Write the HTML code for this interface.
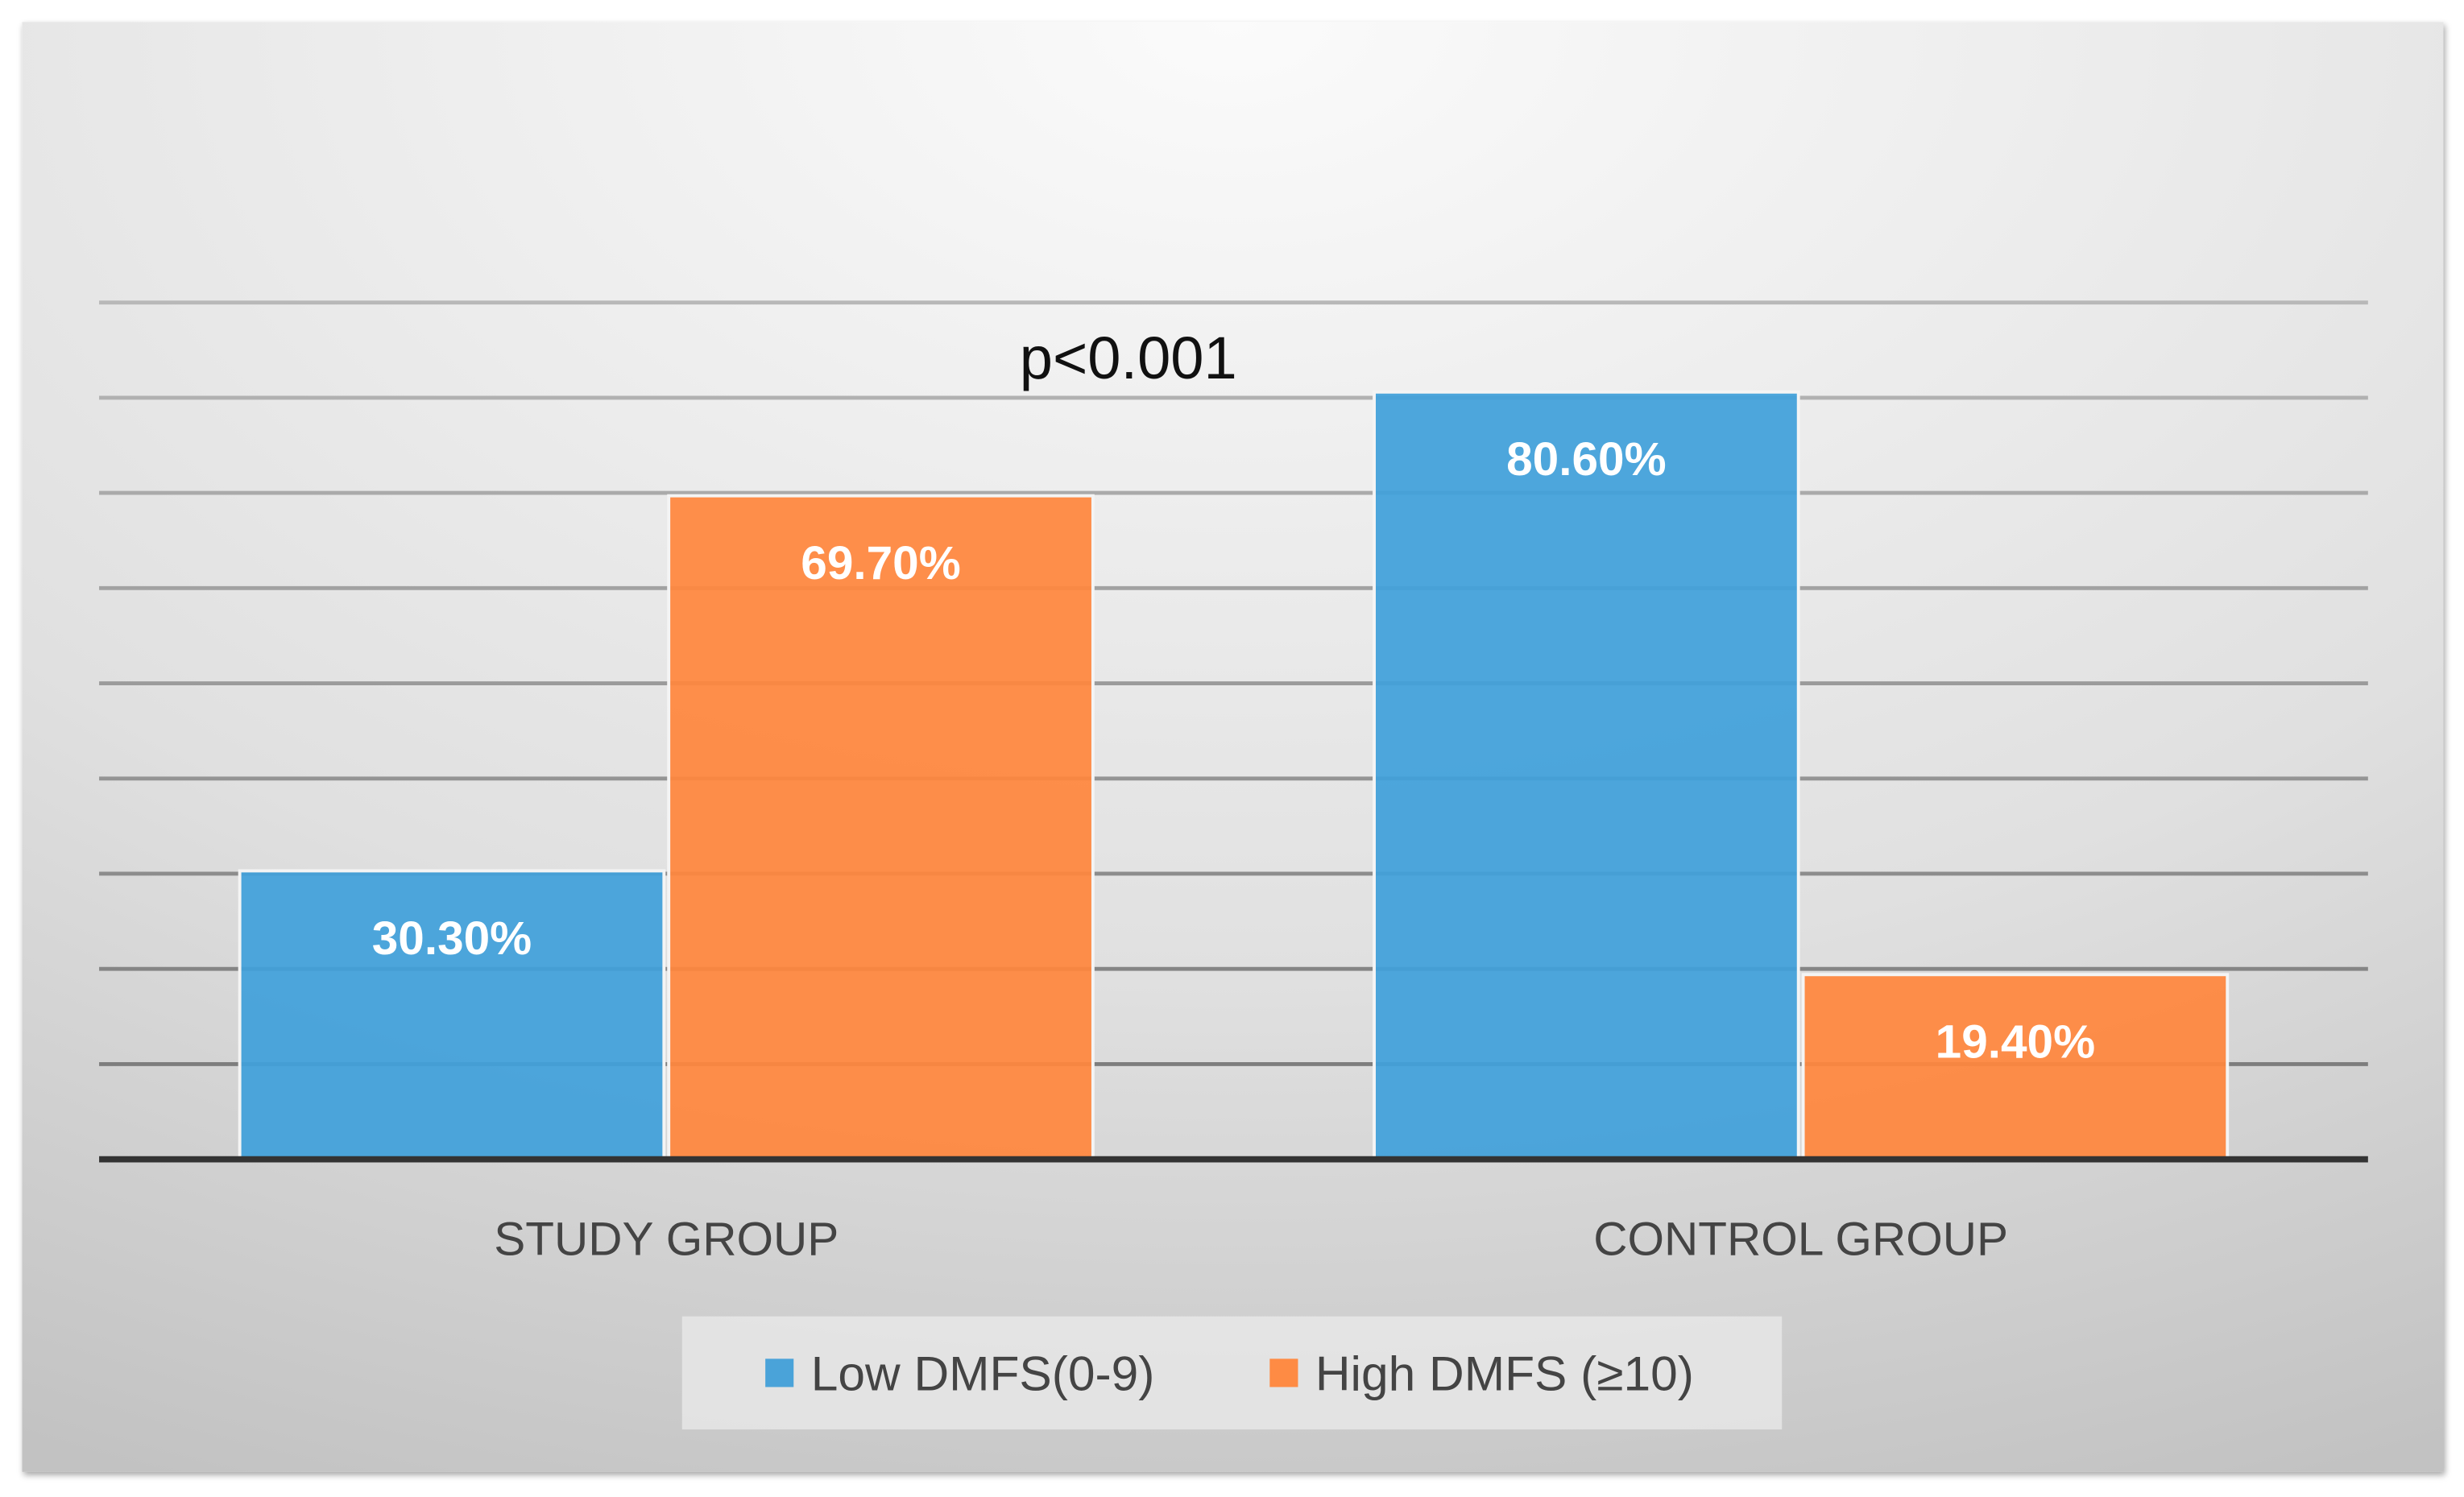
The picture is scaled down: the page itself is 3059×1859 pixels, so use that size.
<!DOCTYPE html>
<html><head><meta charset="utf-8"><style>
html,body{margin:0;padding:0;background:#fff;}
svg{display:block;font-family:"Liberation Sans",sans-serif;}
</style></head><body>
<svg id="chart" width="3059" height="1859" viewBox="0 0 1568 953" xmlns="http://www.w3.org/2000/svg">
<defs>
<radialGradient id="bg" cx="0.5" cy="0" r="1.1" fx="0.5" fy="0">
<stop offset="0" stop-color="#fbfbfb"/><stop offset="0.6" stop-color="#e0e0e0"/><stop offset="1" stop-color="#c2c2c2"/>
</radialGradient>
<filter id="sh" x="-5%" y="-5%" width="110%" height="110%"><feDropShadow dx="1" dy="2" stdDeviation="2" flood-color="#000" flood-opacity="0.35"/></filter>
</defs>
<rect x="14" y="14" width="1541" height="923" fill="url(#bg)" filter="url(#sh)"/>
<g id="grid"></g>
<g id="bars"></g>
<line x1="63" x2="1507" y1="738" y2="738" stroke="#333" stroke-width="4"/>
<text x="718" y="241" font-size="38" text-anchor="middle" fill="#111">p&lt;0.001</text>
<g id="cats"></g>
<rect x="434" y="838" width="700" height="72" fill="#e8e8e8" opacity="0.8"/>
<g>
<rect x="487" y="865" width="18" height="18" fill="#4aa3d9"/>
<text x="516" y="885" font-size="31" fill="#444">Low DMFS(0-9)</text>
</g>
<g>
<rect x="808" y="865" width="18" height="18" fill="#fe8b44"/>
<text x="837" y="885" font-size="31" fill="#444">High DMFS (≥10)</text>
</g>
</svg>
<script>
const categories = ["STUDY GROUP", "CONTROL GROUP"];
const lowValues = [30.3, 80.6];
const highValues = [69.7, 19.4];
const yTicks = [0,10,20,30,40,50,60,70,80,90];
const NS="http://www.w3.org/2000/svg";
const y0=738, pxPer=6.06, plotL=63, plotR=1507;
const y = v => y0 - v*pxPer;
const groupW=(plotR-plotL)/categories.length;
const xc = i => plotL + groupW*(i+0.5);
function mk(t,a){const e=document.createElementNS(NS,t);for(const k in a)e.setAttribute(k,a[k]);return e;}
const grid=document.getElementById('grid');
yTicks.forEach((t,i)=>{ if(t===0) return;
  const c=Math.round(0x77+(0xb8-0x77)*(t/90)).toString(16);
  const l=mk('line',{x1:plotL,x2:plotR,y1:y(t),y2:y(t),stroke:'#'+c+c+c,'stroke-width':2.5});
  
  
  grid.appendChild(l);});
const bars=document.getElementById('bars'), bw=270, gap=3;
function bar(i,v,left,color,name){
  const x= left ? xc(i)-bw-gap/2 : xc(i)+gap/2;
  const r=mk('rect',{x:x,y:y(v),width:bw,height:y0-y(v),fill:color,'fill-opacity':0.93,stroke:'#f4f4f4','stroke-width':2});
  
  
  bars.appendChild(r);
  const t=mk('text',{x:x+bw/2,y:y(v)+53,'font-size':30,'font-weight':'bold',fill:'#fff','text-anchor':'middle'});
  t.textContent=v.toFixed(2)+'%';
  
  
  bars.appendChild(t);
}
categories.forEach((c,i)=>{
  bar(i,lowValues[i],true,'#41a0da','bar-low-'+i);
  bar(i,highValues[i],false,'#ff863d','bar-high-'+i);
  const t=mk('text',{x:xc(i),y:799,'font-size':30,fill:'#444','text-anchor':'middle'});
  t.textContent=c;
  
  
  document.getElementById('cats').appendChild(t);
});
</script>
</body></html>
